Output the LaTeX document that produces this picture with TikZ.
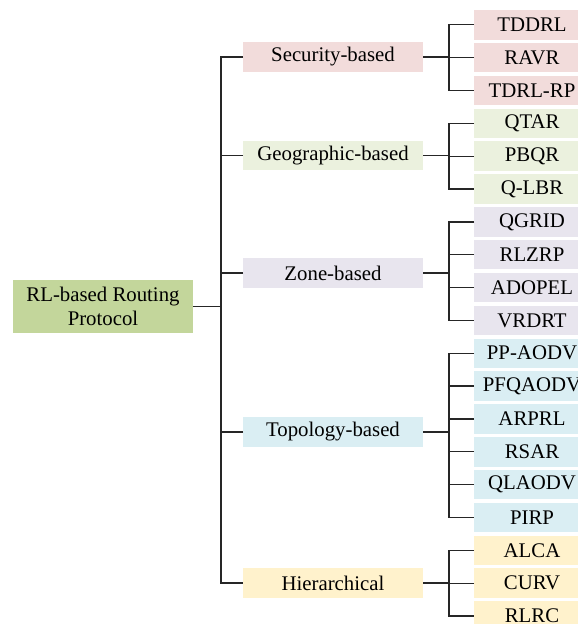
\documentclass[tikz,border=0pt]{standalone}
\usepackage{fontspec}
\setmainfont{Liberation Serif}
\definecolor{cRoot}{HTML}{C3D69B}
\definecolor{cSec}{HTML}{F2DCDB}
\definecolor{cGeo}{HTML}{EBF1DE}
\definecolor{cZone}{HTML}{E8E5EE}
\definecolor{cTopo}{HTML}{DAEEF3}
\definecolor{cHier}{HTML}{FFF2CC}
\tikzset{
  box/.style={inner sep=0pt, outer sep=0pt, font=\fontsize{20.8}{24}\selectfont},
  rootbox/.style={box, fill=cRoot, minimum width=180pt, minimum height=53pt, align=center},
  midbox/.style={box, minimum width=180pt, minimum height=29.5pt},
  leafbox/.style={box, minimum width=116pt, minimum height=29.5pt},
  conn/.style={draw=black!85, line width=1.3pt}
}
\begin{document}
\begin{tikzpicture}[x=1pt,y=-1pt]
\useasboundingbox (0,0) rectangle (578,624);
\clip (0,0) rectangle (578,624);
% root
\node[rootbox] (root) at (103,306.5) {RL-based Routing\\Protocol};
% middle
\node[midbox, fill=cSec]  (sec)  at (333,57)    {Security-based};
\node[midbox, fill=cGeo]  (geo)  at (333,155.5) {Geographic-based};
\node[midbox, fill=cZone] (zone) at (333,273)   {Zone-based};
\node[midbox, fill=cTopo] (topo) at (333,432)   {Topology-based};
\node[midbox, fill=cHier] (hier) at (333,583)   {Hierarchical};
% leaves
\foreach \n/\t/\c [count=\i from 0] in {
  l0/TDDRL/cSec, l1/RAVR/cSec, l2/TDRL-RP/cSec,
  l3/QTAR/cGeo, l4/PBQR/cGeo, l5/Q-LBR/cGeo,
  l6/QGRID/cZone, l7/RLZRP/cZone, l8/ADOPEL/cZone, l9/VRDRT/cZone,
  l10/PP-AODV/cTopo, l11/PFQAODV/cTopo, l12/ARPRL/cTopo, l13/RSAR/cTopo, l14/QLAODV/cTopo, l15/PIRP/cTopo,
  l16/ALCA/cHier, l17/CURV/cHier, l18/RLRC/cHier}
  \node[leafbox, fill=\c] (\n) at (532,{24.75+32.85*\i}) {\t};
% trunk
\draw[conn] (sec.west) -- ++(-22,0) coordinate (t) |- (hier.west);
\draw[conn] (root.east) -- (root.east -| t);
\draw[conn] (geo.west) -- (geo.west -| t);
\draw[conn] (zone.west) -- (zone.west -| t);
\draw[conn] (topo.west) -- (topo.west -| t);
% brackets
\draw[conn] (l0.west) -- ++(-25,0) coordinate (bs) |- (l2.west);
\draw[conn] (sec.east) -- (sec.east -| bs);
\draw[conn] (l1.west) -- (l1.west -| bs);
\draw[conn] (l3.west) -- ++(-25,0) coordinate (bg) |- (l5.west);
\draw[conn] (geo.east) -- (geo.east -| bg);
\draw[conn] (l4.west) -- (l4.west -| bg);
\draw[conn] (l6.west) -- ++(-25,0) coordinate (bz) |- (l9.west);
\draw[conn] (zone.east) -- (zone.east -| bz);
\foreach \k in {7,8} \draw[conn] (l\k.west) -- (l\k.west -| bz);
\draw[conn] (l10.west) -- ++(-25,0) coordinate (bt) |- (l15.west);
\draw[conn] (topo.east) -- (topo.east -| bt);
\foreach \k in {11,12,13,14} \draw[conn] (l\k.west) -- (l\k.west -| bt);
\draw[conn] (l16.west) -- ++(-25,0) coordinate (bh) |- (l18.west);
\draw[conn] (hier.east) -- (hier.east -| bh);
\draw[conn] (l17.west) -- (l17.west -| bh);
\end{tikzpicture}
\end{document}
